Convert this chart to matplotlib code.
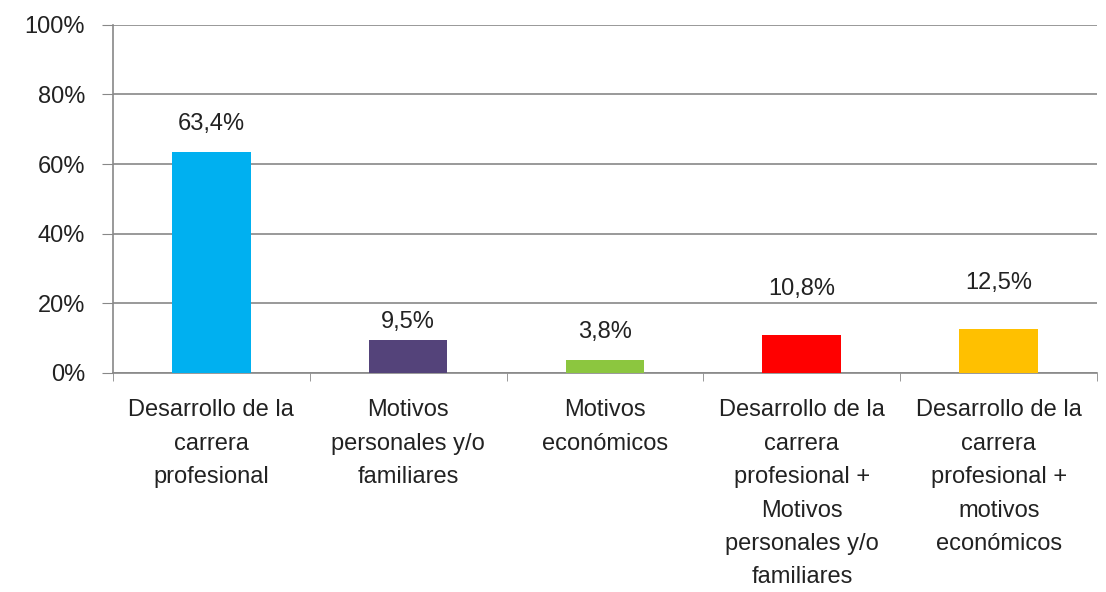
import matplotlib
matplotlib.use("Agg")
import matplotlib.pyplot as plt
import numpy as np

categories = [
    "Desarrollo de la\ncarrera\nprofesional",
    "Motivos\npersonales y/o\nfamiliares",
    "Motivos\neconómicos",
    "Desarrollo de la\ncarrera\nprofesional +\nMotivos\npersonales y/o\nfamiliares",
    "Desarrollo de la\ncarrera\nprofesional +\nmotivos\neconómicos",
]
values = [63.4, 9.5, 3.8, 10.8, 12.5]
value_labels = ["63,4%", "9,5%", "3,8%", "10,8%", "12,5%"]
label_offsets = [4.9, 2.0, 4.9, 10.3, 10.1]
colors = ["#00B0F0", "#54437A", "#8CC63F", "#FF0000", "#FFC000"]
yticks = [0, 20, 40, 60, 80, 100]
ytick_labels = ["0%", "20%", "40%", "60%", "80%", "100%"]

plt.rcParams["font.family"] = ["Liberation Sans", "DejaVu Sans"]

fig = plt.figure(figsize=(11.06, 5.92), dpi=100)
ax = fig.add_axes([0.102, 0.370, 0.890, 0.588])

x = np.arange(len(categories))
ax.bar(x, values, width=0.4, color=colors, zorder=3)

for xi, v, lab, off in zip(x, values, value_labels, label_offsets):
    ax.text(xi, v + off, lab, ha="center", va="bottom", fontsize=17, color="#222222")

ax.set_xlim(-0.5, len(categories) - 0.5)
ax.set_ylim(0, 100)
ax.set_yticks(yticks)
ax.set_yticklabels(ytick_labels, fontsize=17, color="#222222")
ax.yaxis.grid(True, color="#888888", linewidth=1.2, zorder=0)

ax.set_xticks(x)
ax.set_xticklabels(categories, fontsize=17, color="#222222", linespacing=1.67, va="top")
ax.tick_params(axis="x", length=0, pad=19)
ax.set_xticks(np.arange(-0.5, len(categories), 1), minor=True)
ax.tick_params(axis="x", which="minor", length=6, color="#888888", direction="out")
ax.tick_params(axis="y", length=8, color="#888888", pad=12)

for side in ["top", "right"]:
    ax.spines[side].set_visible(False)
for side in ["left", "bottom"]:
    ax.spines[side].set_color("#888888")
    ax.spines[side].set_linewidth(1.2)

fig.savefig("out.png", dpi=100, facecolor="white")
